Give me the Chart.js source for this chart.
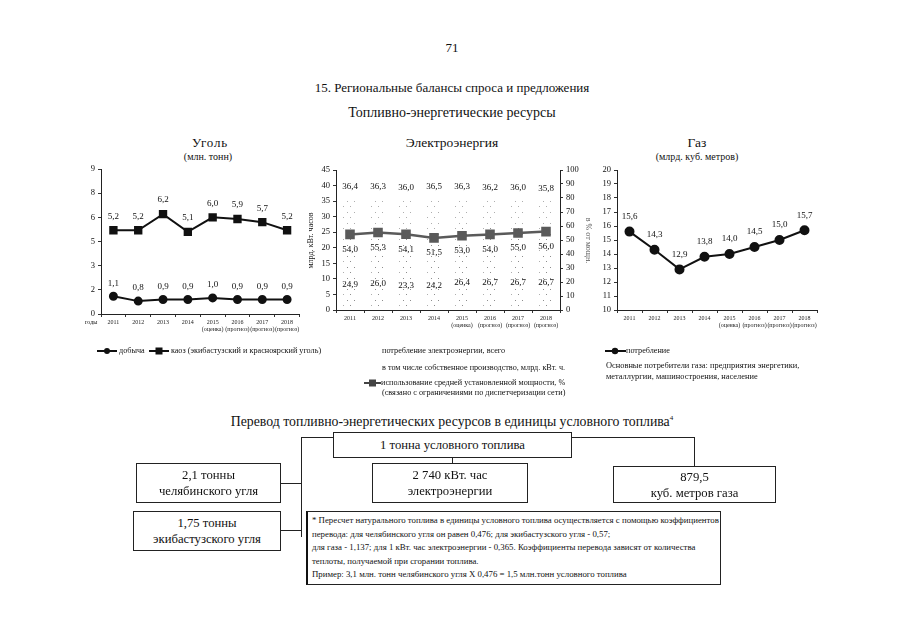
<!DOCTYPE html>
<html lang="ru">
<head>
<meta charset="utf-8">
<script src="https://cdn.jsdelivr.net/npm/chart.js@4.4.0/dist/chart.umd.min.js"></script>
<style>
body { margin:0; background:#fff; font-family:"Liberation Serif","DejaVu Serif",serif; color:#111; }
#page { position:relative; width:905px; height:640px; overflow:hidden; background:#fff; }
.t { position:absolute; white-space:nowrap; line-height:1; }
.c { transform:translateX(-50%); }
canvas { position:absolute; }
.box { position:absolute; border:1px solid #222; box-sizing:border-box; text-align:center; font-size:12.7px; line-height:16px; background:#fff; }
.ln { position:absolute; background:#222; }
.lg { position:absolute; white-space:nowrap; font-size:8.2px; line-height:10px; }
.lg svg { vertical-align:middle; }
.rot { position:absolute; white-space:nowrap; font-size:8px; transform-origin:center; }
</style>
</head>
<body>
<div id="page">
  <div class="t c" style="left:452px;top:41px;font-size:13px;">71</div>
  <div class="t c" style="left:452px;top:81px;font-size:13px;">15. Региональные балансы спроса и предложения</div>
  <div class="t c" style="left:452px;top:106px;font-size:14px;">Топливно-энергетические ресурсы</div>

  <div class="t c" style="left:210px;top:136px;font-size:13px;letter-spacing:0.8px;">Уголь</div>
  <div class="t c" style="left:208px;top:152px;font-size:10px;">(млн. тонн)</div>
  <div class="t c" style="left:452px;top:136px;font-size:13.5px;">Электроэнергия</div>
  <div class="t c" style="left:697px;top:136px;font-size:13.5px;">Газ</div>
  <div class="t c" style="left:697px;top:152px;font-size:10px;">(млрд. куб. метров)</div>

  <canvas id="coal" width="240" height="179" style="left:66px;top:159px;"></canvas>
  <canvas id="power" width="290" height="174" style="left:300px;top:160px;"></canvas>
  <canvas id="gas" width="243" height="174" style="left:580px;top:160px;"></canvas>

  <div class="t" style="left:85px;top:319px;font-size:6px;">годы</div>
  <div class="rot" style="left:282px;top:236px;transform:rotate(-90deg);">млрд. кВт. часов</div>
  <div class="rot" style="left:566px;top:236px;transform:rotate(90deg);color:#555;">в % от мощн.</div>

  <div class="lg" style="left:97px;top:346px;">
    <svg width="20" height="8"><line x1="0" y1="4" x2="20" y2="4" stroke="#111" stroke-width="2"/><circle cx="10" cy="4" r="3" fill="#111"/></svg> добыча
    &nbsp;<svg width="20" height="8"><line x1="0" y1="4" x2="20" y2="4" stroke="#111" stroke-width="2"/><rect x="6.5" y="0.5" width="7" height="7" fill="#111"/></svg> каоз (экибастузский и красноярский уголь)
  </div>

  <div class="lg" style="left:382px;top:346px;">потребление электроэнергии, всего</div>
  <div class="lg" style="left:382px;top:363px;">в том числе собственное производство, млрд. кВт. ч.</div>
  <div class="lg" style="left:364px;top:378px;">
    <svg width="17" height="8"><line x1="0" y1="4" x2="17" y2="4" stroke="#444" stroke-width="2"/><rect x="5" y="0.5" width="7" height="7" fill="#444"/></svg>использование средней установленной мощности, %
  </div>
  <div class="lg" style="left:382px;top:388px;">(связано с ограничениями по диспетчеризации сети)</div>

  <div class="lg" style="left:605px;top:346px;">
    <svg width="21" height="8"><line x1="0" y1="4" x2="21" y2="4" stroke="#111" stroke-width="2"/><circle cx="10" cy="4" r="3.2" fill="#111"/></svg>потребление
  </div>
  <div class="lg" style="left:606px;top:361px;font-size:8.4px;">Основные потребители газа: предприятия энергетики,</div>
  <div class="lg" style="left:606px;top:372px;font-size:8.4px;">металлургии, машиностроения, население</div>

  <div class="t c" style="left:452px;top:415px;font-size:13.8px;">Перевод топливно-энергетических ресурсов в единицы условного топлива<sup style="font-size:7px;">4</sup></div>

  <div class="ln" style="left:301px;top:437px;width:32px;height:1px;"></div>
  <div class="ln" style="left:572px;top:437px;width:123px;height:1px;"></div>
  <div class="ln" style="left:694px;top:437px;width:1px;height:30px;"></div>
  <div class="ln" style="left:301px;top:437px;width:1px;height:100px;"></div>
  <div class="ln" style="left:452px;top:457px;width:1px;height:7px;"></div>
  <div class="ln" style="left:280px;top:483px;width:21px;height:1px;"></div>
  <div class="ln" style="left:280px;top:530px;width:21px;height:1px;"></div>

  <div class="box" style="left:333px;top:432px;width:239px;height:26px;padding-top:4px;">1 тонна условного топлива</div>
  <div class="box" style="left:372px;top:463px;width:156px;height:40px;padding-top:3px;">2 740 кВт. час<br>электроэнергии</div>
  <div class="box" style="left:613px;top:466px;width:163px;height:37px;padding-top:2px;">879,5<br>куб. метров газа</div>
  <div class="box" style="left:136px;top:463px;width:145px;height:40px;padding-top:3px;">2,1 тонны<br>челябинского угля</div>
  <div class="box" style="left:133px;top:511px;width:148px;height:40px;padding-top:3px;">1,75 тонны<br>экибастузского угля</div>
  <div class="box" style="left:306px;top:511px;width:415px;height:74px;border-left:2px solid #111;text-align:left;font-size:8.8px;line-height:13.6px;padding:2px 0 0 4px;">
    * Пересчет натурального топлива в единицы условного топлива осуществляется с помощью коэффициентов<br>
    перевода: для челябинского угля он равен 0,476; для экибастузского угля - 0,57;<br>
    для газа - 1,137; для 1 кВт. час электроэнергии - 0,365. Коэффициенты перевода зависят от количества<br>
    теплоты, получаемой при сгорании топлива.<br>
    Пример: 3,1 млн. тонн челябинского угля X 0,476 = 1,5 млн.тонн условного топлива
  </div>
</div>

<script>
// данные
const years = ['2011', '2012', '2013', '2014', '2015', '2016', '2017', '2018'];
const yearNotes = ['', '', '', '', '(оценка)', '(прогноз)', '(прогноз)', '(прогноз)'];
const coalMining = [1.1, 0.8, 0.9, 0.9, 1.0, 0.9, 0.9, 0.9];
const coalKaoz = [5.2, 5.2, 6.2, 5.1, 6.0, 5.9, 5.7, 5.2];
const powerTotal = [36.4, 36.3, 36.0, 36.5, 36.3, 36.2, 36.0, 35.8];
const powerOwn = [24.9, 26.0, 23.3, 24.2, 26.4, 26.7, 26.7, 26.7];
const powerUsage = [54.0, 55.3, 54.1, 51.5, 53.0, 54.0, 55.0, 56.0];
const gasUse = [15.6, 14.3, 12.9, 13.8, 14.0, 14.5, 15.0, 15.7];

const xLabels = years.map((y, i) => yearNotes[i] ? [y, yearNotes[i]] : y);

Chart.defaults.font.family = '"Liberation Serif", "DejaVu Serif", serif';
Chart.defaults.color = '#111';
Chart.defaults.animation = false;
Chart.defaults.responsive = false;
Chart.defaults.plugins.legend.display = false;
Chart.defaults.plugins.tooltip.enabled = false;

const fmt = v => v.toFixed(1).replace('.', ',');

// подписи значений
const valueLabels = {
    id: 'valueLabels',
    afterDatasetsDraw(chart) {
        const ctx = chart.ctx;
        ctx.save();
        ctx.font = '9px "Liberation Serif", serif';
        ctx.fillStyle = '#111';
        ctx.textAlign = 'center';
        ctx.textBaseline = 'middle';
        chart.data.datasets.forEach((ds, i) => {
            if (ds.labelShift === undefined) return;
            const meta = chart.getDatasetMeta(i);
            const yScale = chart.scales[meta.yAxisID];
            meta.data.forEach((el, j) => {
                const v = ds.data[j];
                let y = el.y + ds.labelShift;
                if (ds.labelInside) y = yScale.getPixelForValue(v * 0.33);
                ctx.fillText(fmt(v), el.x, y);
            });
        });
        ctx.restore();
    }
};

function xAxis() {
    return {
        offset: true,
        grid: { display: true, drawOnChartArea: false, offset: true, tickLength: 3, color: '#333' },
        border: { color: '#222', width: 1 },
        ticks: { font: { size: 6 }, color: '#222', padding: 2, maxRotation: 0, autoSkip: false },
        afterFit: s => { s.height = 24; }
    };
}

function yAxis(min, max, step, width, pos) {
    return {
        position: pos || 'left',
        min: min,
        max: max,
        grid: { display: true, drawOnChartArea: false, tickLength: 3, color: '#333' },
        border: { color: '#222', width: 1 },
        ticks: { stepSize: step, font: { size: 8.5 }, color: '#111', padding: 3, callback: v => Math.round(v) },
        afterFit: s => { s.width = width; }
    };
}

// Уголь
new Chart(document.getElementById('coal'), {
    type: 'line',
    data: {
        labels: xLabels,
        datasets: [{
            data: coalMining,
            borderColor: '#111',
            backgroundColor: '#111',
            borderWidth: 2,
            pointStyle: 'circle',
            pointRadius: 3.5,
            labelShift: -13
        }, {
            data: coalKaoz,
            borderColor: '#111',
            backgroundColor: '#111',
            borderWidth: 2,
            pointStyle: 'rect',
            pointRadius: 4.5,
            labelShift: -14
        }]
    },
    options: {
        layout: { padding: { top: 10, right: 6, left: 0, bottom: 0 } },
        scales: { x: xAxis(), y: yAxis(0, 9, 1.5, 35) }
    },
    plugins: [valueLabels]
});

// узор для столбцов (как на скане - редкие точки)
const dots = document.createElement('canvas');
dots.width = 7;
dots.height = 11;
const dctx = dots.getContext('2d');
dctx.fillStyle = 'rgba(120,120,120,0.6)';
dctx.fillRect(1, 2, 1, 1);
dctx.fillRect(5, 8, 1, 1);
const dotFill = document.getElementById('power').getContext('2d').createPattern(dots, 'repeat');

// Электроэнергия
new Chart(document.getElementById('power'), {
    type: 'bar',
    data: {
        labels: xLabels,
        datasets: [{
            type: 'line',
            data: powerUsage,
            yAxisID: 'y1',
            borderColor: '#5a5a5a',
            backgroundColor: '#5a5a5a',
            borderWidth: 2.5,
            pointStyle: 'rect',
            pointRadius: 5,
            labelShift: 15,
            order: 0
        }, {
            data: powerTotal,
            yAxisID: 'y',
            backgroundColor: dotFill,
            grouped: false,
            barPercentage: 0.5,
            categoryPercentage: 1,
            labelShift: -10,
            order: 2
        }, {
            data: powerOwn,
            yAxisID: 'y',
            backgroundColor: dotFill,
            grouped: false,
            barPercentage: 0.4,
            categoryPercentage: 1,
            labelShift: 0,
            labelInside: true,
            order: 1
        }]
    },
    options: {
        layout: { padding: { top: 10, right: 0, left: 0, bottom: 0 } },
        scales: {
            x: xAxis(),
            y: yAxis(0, 45, 5, 36),
            y1: yAxis(0, 100, 10, 30, 'right')
        }
    },
    plugins: [valueLabels]
});

// Газ
new Chart(document.getElementById('gas'), {
    type: 'line',
    data: {
        labels: xLabels,
        datasets: [{
            data: gasUse,
            borderColor: '#111',
            backgroundColor: '#111',
            borderWidth: 2,
            pointStyle: 'circle',
            pointRadius: 4,
            labelShift: -15
        }]
    },
    options: {
        layout: { padding: { top: 10, right: 6, left: 0, bottom: 0 } },
        scales: { x: xAxis(), y: yAxis(10, 20, 1, 37) }
    },
    plugins: [valueLabels]
});
</script>
</body>
</html>
